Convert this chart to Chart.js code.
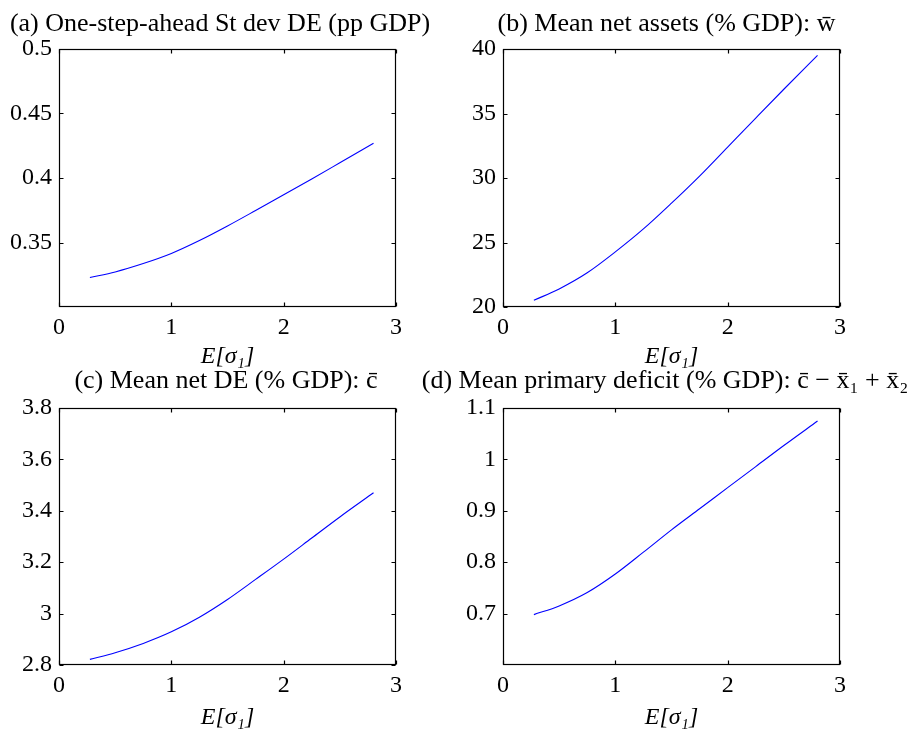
<!DOCTYPE html>
<html>
<head>
<meta charset="utf-8">
<script src="https://cdn.jsdelivr.net/npm/chart.js@4.4.1/dist/chart.umd.min.js"></script>
<style>
  html, body { margin: 0; padding: 0; background: #fff; }
  #wrap { position: relative; width: 911px; height: 730px; overflow: hidden; }
  canvas { position: absolute; }
</style>
</head>
<body>
<div id="wrap">
  <canvas id="panelA" width="440" height="375" style="left:0px;top:0px"></canvas>
  <canvas id="panelB" width="489" height="375" style="left:422px;top:0px"></canvas>
  <canvas id="panelC" width="452" height="380" style="left:0px;top:355px"></canvas>
  <canvas id="panelD" width="492" height="380" style="left:419px;top:355px"></canvas>
</div>
<script>
// E[sigma_1] grid shared by all four panels
const sigma = [0.275, 0.5, 0.75, 1, 1.25, 1.5, 1.75, 2, 2.25, 2.5, 2.8];

const stdDevDE = [0.3228, 0.3272, 0.3337, 0.3415, 0.3515, 0.3628, 0.3748, 0.387, 0.3992, 0.4118, 0.427];
const netAssets = [20.52, 21.4, 22.65, 24.27, 26.05, 28.05, 30.15, 32.4, 34.65, 36.88, 39.5];
const netDE = [2.822, 2.848, 2.884, 2.929, 2.986, 3.055, 3.133, 3.212, 3.294, 3.376, 3.47];
const primaryDeficit = [0.698, 0.715, 0.741, 0.777, 0.8195, 0.863, 0.904, 0.945, 0.986, 1.027, 1.0746];

const xTicks = [0, 1, 2, 3];
const yTicksA = [0.35, 0.4, 0.45, 0.5];
const yTicksB = [20, 25, 30, 35, 40];
const yTicksC = [2.8, 3, 3.2, 3.4, 3.6, 3.8];
const yTicksD = [0.7, 0.8, 0.9, 1, 1.1];

const titles = [
  "(a) One-step-ahead St dev DE (pp GDP)",
  "(b) Mean net assets (% GDP): w\u0304",
  "(c) Mean net DE (% GDP): c\u0304",
  "(d) Mean primary deficit (% GDP): c\u0304 \u2212 x\u0304\u2081 + x\u0304\u2082",
];
const xLabel = "E[\u03c3\u2081]";

Chart.defaults.font.family = "'Liberation Serif', 'Times New Roman', serif";
Chart.defaults.font.size = 24;
Chart.defaults.color = "#000";

// matlab style box with inward tick marks
const matlabFrame = {
  id: "matlabFrame",
  afterDatasetsDraw(chart) {
    const { ctx, chartArea: a, scales } = chart;
    const x = scales.x, y = scales.y;
    const l = Math.round(a.left) + 0.5, r = Math.round(a.right) - 0.5;
    const t = Math.round(a.top) + 0.5, b = Math.round(a.bottom) - 0.5;
    ctx.save();
    ctx.strokeStyle = "#000";
    ctx.lineWidth = 1.2;
    ctx.strokeRect(l, t, r - l, b - t);
    ctx.beginPath();
    x.ticks.forEach((tk) => {
      const p = Math.round(x.getPixelForValue(tk.value)) + 0.5;
      ctx.moveTo(p, b); ctx.lineTo(p, b - 4);
      ctx.moveTo(p, t); ctx.lineTo(p, t + 4);
    });
    y.ticks.forEach((tk) => {
      const p = Math.round(y.getPixelForValue(tk.value)) + 0.5;
      ctx.moveTo(l, p); ctx.lineTo(l + 4, p);
      ctx.moveTo(r, p); ctx.lineTo(r - 4, p);
    });
    ctx.stroke();
    ctx.restore();
  },
};

function makePanel(id, title, values, yMin, yMax, yTicks, g) {
  const points = sigma.map((s, i) => ({ x: s, y: values[i] }));
  return new Chart(document.getElementById(id), {
    type: "scatter",
    data: {
      datasets: [{
        data: points,
        showLine: true,
        borderColor: "#0000ff",
        borderWidth: 1.1,
        pointRadius: 0,
        cubicInterpolationMode: "monotone",
      }],
    },
    options: {
      responsive: false,
      animation: false,
      devicePixelRatio: 1,
      layout: { padding: 0 },
      plugins: {
        legend: { display: false },
        tooltip: { enabled: false },
        title: {
          display: true,
          text: title,
          fullSize: true,
          color: "#000",
          font: { size: 26, weight: "normal", lineHeight: 1.2 },
          padding: g.titlePad,
        },
      },
      scales: {
        x: {
          type: "linear",
          min: 0,
          max: 3,
          afterBuildTicks: (s) => { s.ticks = xTicks.map((v) => ({ value: v })); },
          afterFit: (s) => { s.height = g.xHeight; },
          grid: { display: false, drawTicks: false },
          border: { display: false },
          ticks: { padding: g.xTickPad, maxRotation: 0, autoSkip: false, callback: (v) => String(v) },
          title: {
            display: true,
            text: xLabel,
            color: "#000",
            font: { size: 24, style: "italic", lineHeight: 1.2 },
            padding: { top: 0, bottom: g.xTitlePad },
          },
        },
        y: {
          type: "linear",
          position: "left",
          min: yMin,
          max: yMax,
          afterBuildTicks: (s) => { s.ticks = yTicks.map((v) => ({ value: v })); },
          afterFit: (s) => { s.width = g.yWidth; },
          grid: { display: false, drawTicks: false },
          border: { display: false },
          ticks: { padding: 7, autoSkip: false, callback: (v) => String(v) },
        },
        yRight: {
          type: "linear",
          position: "right",
          afterFit: (s) => { s.width = g.rightWidth; },
          grid: { display: false, drawTicks: false },
          border: { display: false },
          ticks: { display: false },
        },
      },
    },
    plugins: [matlabFrame],
  });
}

const topGeom = { titlePad: { top: 8.9, bottom: 8.9 }, xHeight: 68, xTickPad: 6.6, xTitlePad: 4 };
const botGeom = { titlePad: { top: 10.4, bottom: 11.4 }, xHeight: 70, xTickPad: 6.6, xTitlePad: 3 };

makePanel("panelA", titles[0], stdDevDE, 0.3, 0.5, yTicksA, { ...topGeom, yWidth: 59, rightWidth: 44 });
makePanel("panelB", titles[1], netAssets, 20, 40, yTicksB, { ...topGeom, yWidth: 81, rightWidth: 71 });
makePanel("panelC", titles[2], netDE, 2.8, 3.8, yTicksC, { ...botGeom, yWidth: 59, rightWidth: 56 });
makePanel("panelD", titles[3], primaryDeficit, 0.6, 1.1, yTicksD, { ...botGeom, yWidth: 84, rightWidth: 71 });
</script>
</body>
</html>
